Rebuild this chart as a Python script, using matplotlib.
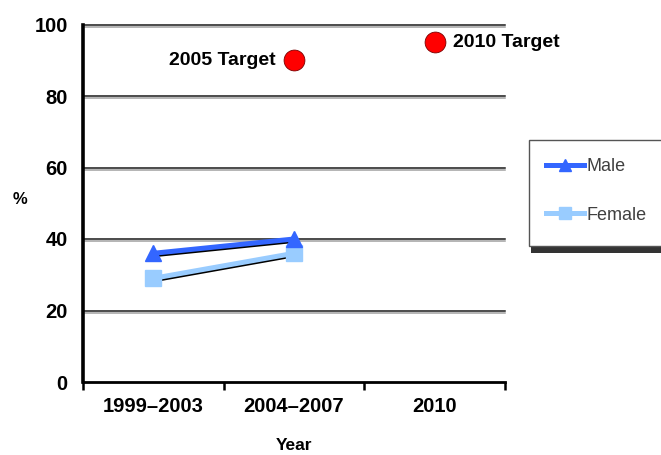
import numpy as np
import matplotlib
matplotlib.use('Agg')
import matplotlib.pyplot as plt
import matplotlib.patheffects as pe
from matplotlib.patches import Rectangle
from matplotlib.lines import Line2D

# Data
categories = ['1999–2003', '2004–2007', '2010']
male = [36, 40]
female = [29, 36]
target_labels = ['2005 Target', '2010 Target']
target_values = [90, 95]
target_idx = [1, 2]          # category index of each target
yticks = [0, 20, 40, 60, 80, 100]

plt.rcParams['font.family'] = ['Liberation Sans', 'DejaVu Sans']

W, H = 661, 455
fig = plt.figure(figsize=(W / 100, H / 100), dpi=100)
ax = fig.add_axes([83 / W, 1 - 382 / H, (505 - 83) / W, (382 - 24.5) / H])

x = np.arange(len(categories)) + 0.5
ax.set_xlim(0, len(categories))
ax.set_ylim(0, 100)

# Horizontal gridlines with a soft grey shadow
for v in yticks[1:]:
    ax.axhline(v, color='#1a1a1a', lw=1.1, zorder=1, clip_on=False,
               path_effects=[pe.SimpleLineShadow(offset=(0, -1.6), shadow_color='#a0a0a0', alpha=1),
                             pe.Normal()])

# Spines
for s in ['top', 'right']:
    ax.spines[s].set_visible(False)
ax.spines['left'].set_linewidth(2.6)
ax.spines['bottom'].set_linewidth(2.0)

# Y axis
ax.set_yticks(yticks)
ax.set_yticklabels([str(v) for v in yticks], fontsize=14.5, fontweight='bold')
ax.tick_params(axis='y', length=0, pad=11)

# X axis: boundary ticks + category labels
ax.set_xticks(np.arange(len(categories) + 1))
ax.set_xticklabels([])
ax.tick_params(axis='x', which='major', direction='out', length=6, width=1.8)
ax.set_xticks(x, minor=True)
ax.set_xticklabels(categories, minor=True, fontsize=14.5, fontweight='bold')
ax.tick_params(axis='x', which='minor', length=0, pad=11)

shadow = [pe.SimpleLineShadow(offset=(0.6, -1.0), shadow_color='black', alpha=1), pe.Normal()]

male_color = '#3366FF'
female_color = '#99CCFF'
# connecting lines (with a thin dark drop shadow), markers drawn on top
ax.plot(x[:len(male)], male, color=male_color, lw=3.6, zorder=4, path_effects=shadow)
ax.plot(x[:len(male)], male, ls='none', color=male_color, marker='^', ms=12, zorder=4.5)
ax.plot(x[:len(female)], female, color=female_color, lw=3.6, zorder=3, path_effects=shadow)
ax.plot(x[:len(female)], female, ls='none', color=female_color, marker='s', ms=11, zorder=3.5)

# Target points
for lab, val, i in zip(target_labels, target_values, target_idx):
    ax.plot(x[i], val, 'o', color='#FF0000', ms=15, mec='#7a0000', mew=0.6,
            zorder=5, clip_on=False)
    if i == 1:
        ax.annotate(lab, (x[i], val), xytext=(-13, 0), textcoords='offset points',
                    ha='right', va='center', fontsize=14, fontweight='bold')
    else:
        ax.annotate(lab, (x[i], val), xytext=(13, 0), textcoords='offset points',
                    ha='left', va='center', fontsize=14, fontweight='bold')

# Axis titles
fig.text(20 / W, 1 - 200 / H, '%', fontsize=12, fontweight='bold', ha='center', va='center')
fig.text(294 / W, 1 - 446 / H, 'Year', fontsize=12.5, fontweight='bold', ha='center', va='center')

# Legend box with a dark shadow along the bottom
fig.patches.append(Rectangle((531 / W, 1 - 253 / H), (W + 20 - 531) / W, 8 / H,
                             transform=fig.transFigure, facecolor='#333333',
                             edgecolor='none', zorder=0))
fig.patches.append(Rectangle((529 / W, 1 - 246 / H), (W + 20 - 529) / W, (246 - 140) / H,
                             transform=fig.transFigure, facecolor='white',
                             edgecolor='#555555', lw=1.0, zorder=1))

handles = [Line2D([], [], color=male_color, lw=3.6, marker='^', ms=9),
           Line2D([], [], color=female_color, lw=3.6, marker='s', ms=9)]
leg = fig.legend(handles, ['Male', 'Female'], loc='upper left',
                 bbox_to_anchor=(546 / W, 1 - 158 / H), frameon=False,
                 fontsize=13, handlelength=2.1, handletextpad=0.15,
                 labelspacing=1.75, borderpad=0, borderaxespad=0)
for t in leg.get_texts():
    t.set_color('#404040')

fig.savefig('out.png', dpi=100)
